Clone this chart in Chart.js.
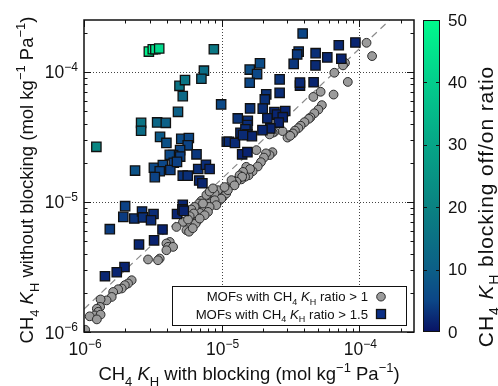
<!DOCTYPE html>
<html><head><meta charset="utf-8">
<script src="https://cdn.jsdelivr.net/npm/chart.js@4/dist/chart.umd.min.js"></script>
<style>html,body{margin:0;padding:0;background:#fff;}</style>
</head><body>
<canvas id="c" width="498" height="386"></canvas>
<script>
// ---------- data ----------
const xLimits = [1e-6, 2.5e-4];
const yLimits = [1e-6, 2.5e-4];
const decadeTicks = [1e-6, 1e-5, 1e-4];
const decadeExponents = ['−6', '−5', '−4'];
const colorbarTicks = [0, 10, 20, 30, 40, 50];
const colorbarMax = 50;
const thresholdRatio = 1.5;

// MOFs with CH4 KH ratio > 1.5 (squares)
const sqX = [2.96e-6,3.16e-6,3.30e-6,3.52e-6,8.78e-6,1.23e-6,2.60e-6,2.60e-6,3.40e-6,3.93e-6,
 4.82e-6,4.94e-6,5.42e-6,5.22e-6,7.44e-6,7.13e-6,9.92e-6,3.57e-6,3.97e-6,5.09e-6,
 5.78e-6,5.67e-6,4.99e-6,4.44e-6,4.20e-6,5.00e-6,4.49e-6,6.57e-6,2.35e-6,3.22e-6,
 3.74e-6,3.55e-6,4.24e-6,4.74e-6,3.27e-6,5.22e-6,5.67e-6,6.76e-6,7.69e-6,8.18e-6,
 6.87e-6,7.25e-6,1.09e-5,1.13e-5,1.25e-5,1.31e-5,1.55e-5,1.54e-5,1.37e-5,1.49e-5,
 1.54e-5,1.66e-5,1.43e-5,1.41e-5,1.54e-5,1.60e-5,1.90e-5,1.81e-5,1.60e-5,2.64e-5,
 3.71e-5,3.71e-5,2.64e-5,2.11e-5,2.06e-5,1.99e-5,1.61e-5,2.42e-5,2.53e-5,2.90e-5,
 2.78e-5,2.15e-5,2.60e-5,2.26e-5,1.98e-5,3.88e-5,3.63e-5,3.54e-5,3.34e-5,4.82e-5,
 4.81e-5,5.86e-5,7.41e-5,7.10e-5,9.38e-5,4.66e-5,1.99e-6,1.93e-6,2.32e-6,2.64e-6,
 2.68e-6,3.20e-6,3.07e-6,3.72e-6,1.54e-6,2.51e-6,3.23e-6,4.74e-6,5.22e-6,5.19e-6,
 5.31e-6,1.97e-6,1.73e-6,1.42e-6];
const sqY = [1.43e-4,1.49e-4,1.49e-4,1.51e-4,1.49e-4,2.65e-5,4.05e-5,3.52e-5,4.08e-5,4.05e-5,
 4.92e-5,7.80e-5,8.63e-5,6.50e-5,1.02e-4,8.83e-5,5.61e-5,3.16e-5,2.84e-5,3.05e-5,
 3.10e-5,2.72e-5,2.50e-5,2.29e-5,2.30e-5,2.23e-5,2.00e-5,2.32e-5,1.74e-5,1.83e-5,
 1.92e-5,1.72e-5,1.76e-5,2.03e-5,1.55e-5,1.59e-5,1.59e-5,1.79e-5,1.93e-5,1.79e-5,
 1.46e-5,1.39e-5,2.90e-5,2.90e-5,2.84e-5,4.38e-5,4.20e-5,3.89e-5,3.40e-5,3.61e-5,
 3.30e-5,3.20e-5,3.26e-5,2.32e-5,2.41e-5,1.04e-4,1.16e-4,9.60e-5,8.23e-5,8.74e-5,
 7.83e-5,8.26e-5,6.89e-5,6.71e-5,6.13e-5,5.21e-5,5.23e-5,4.90e-5,4.69e-5,5.00e-5,
 4.48e-5,4.39e-5,4.07e-5,3.67e-5,3.56e-5,1.97e-4,1.43e-4,1.36e-4,1.15e-4,1.39e-4,
 1.12e-4,1.29e-4,1.26e-4,1.60e-4,1.68e-4,8.30e-5,9.27e-6,7.67e-6,7.45e-6,8.44e-6,
 7.60e-6,8.07e-6,7.23e-6,6.13e-6,6.17e-6,4.70e-6,5.06e-6,8.07e-6,9.51e-6,8.75e-6,
 8.53e-6,3.16e-6,2.88e-6,2.68e-6];

// MOFs with CH4 KH ratio > 1 (circles)
const ciX = [1.13e-4,1.24e-4,7.88e-5,7.62e-5,6.59e-5,8.26e-5,5.24e-5,4.64e-5,6.51e-5,5.35e-5,
 5.05e-5,4.72e-5,4.42e-5,4.30e-5,4.00e-5,3.75e-5,3.61e-5,3.41e-5,3.30e-5,3.08e-5,
 3.01e-5,3.15e-5,2.77e-5,2.42e-5,2.35e-5,2.23e-5,2.34e-5,2.23e-5,2.10e-5,2.03e-5,
 1.93e-5,1.83e-5,1.79e-5,1.68e-5,1.57e-5,1.48e-5,1.39e-5,1.31e-5,1.51e-5,1.61e-5,
 1.43e-5,1.35e-5,1.41e-5,1.28e-5,1.21e-5,1.14e-5,1.08e-5,1.02e-5,9.55e-6,9.15e-6,
 8.65e-6,8.42e-6,8.18e-6,7.75e-6,7.32e-6,6.93e-6,6.56e-6,6.27e-6,6.03e-6,5.86e-6,
 5.55e-6,6.73e-6,6.48e-6,1.02e-5,9.68e-6,1.08e-5,9.40e-6,8.90e-6,7.13e-6,6.85e-6,
 6.37e-6,6.03e-6,6.27e-6,5.86e-6,5.24e-6,5.70e-6,4.70e-6,4.20e-6,3.97e-6,4.08e-6,
 4.44e-6,3.97e-6,3.55e-6,3.45e-6,2.92e-6,2.22e-6,2.09e-6,1.98e-6,1.88e-6,1.77e-6,
 1.63e-6,1.59e-6,1.46e-6,1.32e-6,1.31e-6,1.24e-6,1.27e-6,1.20e-6,1.10e-6,1.32e-6,
 1.02e-6,1.24e-6,1.18e-5,1.24e-5,1.11e-5,1.05e-5,9.95e-6,8.90e-6,9.15e-6,8.18e-6,
 7.96e-6,7.53e-6,6.93e-6,7.75e-6,8.18e-6,8.65e-6,7.32e-6,5.80e-6,6.17e-6];
const ciY = [1.67e-4,1.32e-4,1.17e-4,1.12e-4,9.83e-5,8.36e-5,7.02e-5,6.41e-5,6.68e-5,5.54e-5,
 5.12e-5,4.80e-5,4.46e-5,4.35e-5,4.10e-5,3.85e-5,3.69e-5,3.53e-5,3.36e-5,3.26e-5,
 3.12e-5,3.22e-5,3.50e-5,3.45e-5,3.40e-5,3.30e-5,2.41e-5,2.29e-5,2.36e-5,2.19e-5,
 2.02e-5,1.87e-5,2.50e-5,1.72e-5,1.60e-5,1.56e-5,1.49e-5,1.49e-5,1.86e-5,1.79e-5,
 1.70e-5,1.60e-5,1.56e-5,1.43e-5,1.39e-5,1.32e-5,1.27e-5,1.19e-5,1.16e-5,1.09e-5,
 1.04e-5,1.00e-5,9.72e-6,9.15e-6,8.74e-6,8.23e-6,7.67e-6,7.23e-6,6.82e-6,6.42e-6,
 6.06e-6,7.23e-6,6.82e-6,1.09e-5,1.03e-5,1.16e-5,1.23e-5,1.16e-5,1.02e-5,9.72e-6,
 9.15e-6,8.74e-6,8.15e-6,7.76e-6,7.02e-6,7.32e-6,6.42e-6,4.92e-6,4.79e-6,4.51e-6,
 4.51e-6,4.25e-6,3.67e-6,3.56e-6,3.61e-6,2.50e-6,2.36e-6,2.29e-6,2.16e-6,2.13e-6,
 2.03e-6,1.86e-6,1.75e-6,1.78e-6,1.56e-6,1.51e-6,1.43e-6,1.34e-6,1.32e-6,1.36e-6,
 1.04e-6,1.25e-6,1.47e-5,1.34e-5,1.23e-5,1.30e-5,1.06e-5,1.03e-5,9.44e-6,9.15e-6,
 8.38e-6,7.90e-6,7.45e-6,1.13e-5,1.20e-5,1.27e-5,9.72e-6,5.90e-6,6.28e-6];

// ---------- styling ----------
const FONT = '"Liberation Sans", Arial, Helvetica, sans-serif';
const cmapStops = [[0,[8,18,100]],[5,[12,70,135]],[10,[12,95,135]],[20,[10,130,130]],[30,[6,165,135]],[40,[3,205,140]],[50,[0,250,140]]];
function cmap(v){
  v = Math.max(0, Math.min(colorbarMax, v));
  for (let i=1;i<cmapStops.length;i++){
    const [v1,c1]=cmapStops[i-1],[v2,c2]=cmapStops[i];
    if (v<=v2){ const t=(v-v1)/(v2-v1); return `rgb(${c1.map((c,k)=>Math.round(c+(c2[k]-c)*t)).join(',')})`; }
  }
  return `rgb(${cmapStops[cmapStops.length-1][1].join(',')})`;
}
const sqColors = sqX.map((x,i)=>cmap(sqY[i]/x));

function fontFor(k,size){
  if (k==='i') return `italic ${size}px ${FONT}`;
  if (k==='sub'||k==='sup') return `${Math.round(size*0.68)}px ${FONT}`;
  return `${size}px ${FONT}`;
}
function richWidth(ctx, parts, size, ls){
  let w=0;
  for (const [t,k] of parts){ ctx.font=fontFor(k,size); for (const ch of t) w+=ctx.measureText(ch).width+ls; }
  return w-ls;
}
function drawRich(ctx, parts, x, y, size, align, ls){
  ls = ls||0;
  ctx.textAlign='left'; ctx.textBaseline='alphabetic';
  const w = richWidth(ctx, parts, size, ls);
  let cx = align==='center' ? x-w/2 : align==='right' ? x-w : x;
  for (const [t,k] of parts){
    ctx.font=fontFor(k,size);
    const dy = k==='sub' ? size*0.3 : k==='sup' ? -size*0.42 : 0;
    if (!ls){ ctx.fillText(t, cx, y+dy); cx += ctx.measureText(t).width; }
    else for (const ch of t){ ctx.fillText(ch, cx, y+dy); cx += ctx.measureText(ch).width+ls; }
  }
}
const xTitle = [['CH','n'],['4','sub'],[' ','n'],['K','i'],['H','sub'],[' with blocking (mol kg','n'],['−1','sup'],[' Pa','n'],['−1','sup'],[')','n']];
const yTitle = [['CH','n'],['4','sub'],[' ','n'],['K','i'],['H','sub'],[' without blocking (mol kg','n'],['−1','sup'],[' Pa','n'],['−1','sup'],[')','n']];
const cbTitle = [['CH','n'],['4','sub'],[' ','n'],['K','i'],['H','sub'],[' blocking off/on ratio','n']];
const leg1 = [['MOFs with CH','n'],['4','sub'],[' ','n'],['K','i'],['H','sub'],[' ratio > 1','n']];
const leg2 = [['MOFs with CH','n'],['4','sub'],[' ','n'],['K','i'],['H','sub'],[' ratio > 1.5','n']];

function minorTicks(lo, hi){
  const out=[];
  for (let e=Math.floor(Math.log10(lo)); e<=Math.ceil(Math.log10(hi)); e++)
    for (let m=1;m<10;m++){ const v=m*Math.pow(10,e); if (v>=lo*0.999 && v<=hi*1.001) out.push({v, major:m===1}); }
  return out;
}

const decor = {
  id:'decor',
  beforeDatasetsDraw(chart){
    const {ctx, chartArea:a, scales:{x,y}} = chart;
    ctx.save();
    ctx.strokeStyle='#444'; ctx.lineWidth=1; ctx.setLineDash([1,2]);
    for (const v of decadeTicks){
      if (v<=xLimits[0]) continue;
      const px=Math.round(x.getPixelForValue(v))+0.5;
      ctx.beginPath(); ctx.moveTo(px,a.top); ctx.lineTo(px,a.bottom); ctx.stroke();
      const py=Math.round(y.getPixelForValue(v))+0.5;
      ctx.beginPath(); ctx.moveTo(a.left,py); ctx.lineTo(a.right,py); ctx.stroke();
    }
    ctx.restore();
  },
  afterDatasetsDraw(chart){
    const {ctx, chartArea:a, scales:{x,y}} = chart;
    ctx.save();
    ctx.setLineDash([]);
    // ticks
    ctx.strokeStyle='#111'; ctx.lineWidth=1;
    for (const t of minorTicks(xLimits[0], xLimits[1])){
      const px=Math.round(x.getPixelForValue(t.v))+0.5, L=t.major?7:3.5;
      ctx.beginPath(); ctx.moveTo(px,a.bottom); ctx.lineTo(px,a.bottom-L); ctx.moveTo(px,a.top); ctx.lineTo(px,a.top+L); ctx.stroke();
    }
    for (const t of minorTicks(yLimits[0], yLimits[1])){
      const py=Math.round(y.getPixelForValue(t.v))+0.5, L=t.major?7:3.5;
      ctx.beginPath(); ctx.moveTo(a.left,py); ctx.lineTo(a.left+L,py); ctx.moveTo(a.right,py); ctx.lineTo(a.right-L,py); ctx.stroke();
    }
    // frame
    ctx.lineWidth=1.5; ctx.strokeStyle='#111';
    ctx.strokeRect(a.left, a.top, a.right-a.left, a.bottom-a.top);
    // tick labels
    ctx.fillStyle='#111';
    decadeTicks.forEach((v,i)=>{
      const px=x.getPixelForValue(v);
      drawRich(ctx, [['10','n'],[decadeExponents[i],'sup']], px+1, 355, 17.5, 'center');
      const py=y.getPixelForValue(v);
      drawRich(ctx, [['10','n'],[decadeExponents[i],'sup']], 78, py+6.5, 17.5, 'right');
    });
    // axis titles
    drawRich(ctx, xTitle, (a.left+a.right)/2, 380, 18.5, 'center');
    ctx.save(); ctx.translate(33, 180); ctx.rotate(-Math.PI/2);
    drawRich(ctx, yTitle, 0, 0, 18.5, 'center'); ctx.restore();
    // legend
    const lx0=172, ly0=286, lx1=407, ly1=326;
    ctx.fillStyle='#fff'; ctx.fillRect(lx0,ly0,lx1-lx0,ly1-ly0);
    ctx.lineWidth=1; ctx.strokeStyle='#111'; ctx.strokeRect(lx0+0.5,ly0+0.5,lx1-lx0-1,ly1-ly0-1);
    ctx.fillStyle='#111';
    drawRich(ctx, leg1, 368, 301, 13.2, 'right');
    drawRich(ctx, leg2, 368, 318.5, 13.2, 'right');
    ctx.beginPath(); ctx.arc(381, 296.7, 4.3, 0, Math.PI*2);
    ctx.fillStyle='#9b9b9b'; ctx.fill(); ctx.strokeStyle='#2b2b2b'; ctx.lineWidth=1; ctx.stroke();
    ctx.fillStyle='#0b2f86'; ctx.fillRect(376.5,309.5,9,9);
    ctx.strokeStyle='#111'; ctx.lineWidth=1.3; ctx.strokeRect(376.5,309.5,9,9);
    // colorbar
    const cx0=423, cx1=440, cy0=a.top, cy1=a.bottom;
    const g=ctx.createLinearGradient(0,cy1,0,cy0);
    for (const [v,c] of cmapStops) g.addColorStop(v/colorbarMax, `rgb(${c.join(',')})`);
    ctx.fillStyle=g; ctx.fillRect(cx0,cy0,cx1-cx0,cy1-cy0);
    ctx.strokeStyle='#111'; ctx.lineWidth=1; ctx.strokeRect(cx0+0.5,cy0+0.5,cx1-cx0-1,cy1-cy0-1);
    ctx.fillStyle='#111'; ctx.font=`17px ${FONT}`; ctx.textAlign='left'; ctx.textBaseline='middle';
    for (const v of colorbarTicks){
      const py=cy1-(cy1-cy0)*v/colorbarMax;
      if (v>0 && v<colorbarMax){
        const yy=Math.round(py)+0.5;
        ctx.beginPath(); ctx.moveTo(cx0,yy); ctx.lineTo(cx0+4,yy); ctx.moveTo(cx1,yy); ctx.lineTo(cx1-4,yy); ctx.stroke();
      }
      ctx.fillText(String(v), 448, py+1);
    }
    ctx.save(); ctx.translate(493, 207); ctx.rotate(-Math.PI/2);
    drawRich(ctx, cbTitle, 0, 0, 21, 'center', 0.9); ctx.restore();
    ctx.restore();
  }
};

new Chart(document.getElementById('c').getContext('2d'), {
  type:'scatter',
  data:{datasets:[
    {label:'MOFs with CH4 KH ratio > 1.5', data: sqX.map((v,i)=>({x:v, y:sqY[i]})),
     pointStyle:'rect', pointRadius:6.6, pointHoverRadius:6.6, backgroundColor:sqColors, borderColor:'#111', borderWidth:1.3},
    {label:'MOFs with CH4 KH ratio > 1', data: ciX.map((v,i)=>({x:v, y:ciY[i]})),
     pointStyle:'circle', pointRadius:4.4, pointHoverRadius:4.4, backgroundColor:'#9b9b9b', borderColor:'#2b2b2b', borderWidth:1},
    {label:'ratio = 1.5', data:[{x:xLimits[0], y:xLimits[0]*thresholdRatio},{x:yLimits[1]/thresholdRatio, y:yLimits[1]}],
     showLine:true, pointRadius:0, borderColor:'#8a8a8a', borderWidth:1.2, borderDash:[7,5], fill:false}
  ]},
  options:{
    responsive:false, animation:false, devicePixelRatio:1,
    layout:{padding:{left:84, top:20, right:84, bottom:54}},
    plugins:{legend:{display:false}, tooltip:{enabled:false}},
    scales:{
      x:{type:'logarithmic', min:xLimits[0], max:xLimits[1], display:false},
      y:{type:'logarithmic', min:yLimits[0], max:yLimits[1], display:false}
    }
  },
  plugins:[decor]
});
</script>
</body></html>
